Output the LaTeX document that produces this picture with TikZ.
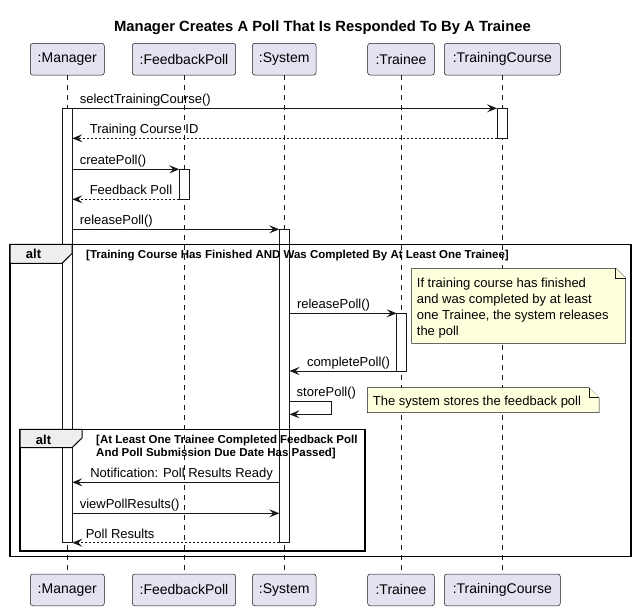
\documentclass[tikz,border=0pt]{standalone}
\usepackage{fontspec}
\setmainfont{Liberation Sans}
\usetikzlibrary{arrows.meta}

\definecolor{partfill}{HTML}{E2E2F0}
\definecolor{ink}{HTML}{181818}
\definecolor{notefill}{HTML}{FEFFDD}
\definecolor{tabfill}{HTML}{EEEEEE}

\tikzset{
  part/.style={draw=ink, fill=partfill, line width=0.5pt, rounded corners=2.5pt,
    minimum height=31.7pt, inner sep=0pt, font=\fontsize{14}{17}\selectfont},
  life/.style={draw=ink, line width=0.5pt, dash pattern=on 5pt off 5pt},
  act/.style={draw=ink, fill=white, line width=1pt},
  call/.style={draw=ink, line width=1pt, -{Stealth[length=10pt,width=8pt,inset=4pt]}},
  reply/.style={call, dash pattern=on 2pt off 2pt},
  lbl/.style={anchor=base west, inner sep=0pt, yshift=4.5pt, font=\fontsize{13}{16}\selectfont},
  frame/.style={draw=black, line width=1.5pt},
  tab/.style={draw=black, fill=tabfill, line width=1pt},
  tabtext/.style={anchor=base, inner sep=0pt, font=\fontsize{13}{16}\bfseries\selectfont},
  guard/.style={anchor=north west, inner sep=0pt, align=left, font=\fontsize{11.5}{13.3}\bfseries\selectfont},
  notebox/.style={draw=ink, fill=notefill, line width=0.5pt},
  notetext/.style={anchor=north west, inner sep=0pt, align=left, font=\fontsize{13}{16}\selectfont},
}

\begin{document}
\begin{tikzpicture}[x=1pt,y=-1pt]
  \useasboundingbox (0,0) rectangle (635,611);

  \node[anchor=base, font=\fontsize{14.8}{18}\bfseries\selectfont] (title) at (322.5,31.5)
    {Manager Creates A Poll That Is Responded To By A Trainee};

  \begin{scope}[every node/.style={part}]
    \node[minimum width=74pt]    (mgr)  at (67.3,59.2)  {:Manager};
    \node[minimum width=103.4pt] (fp)   at (184,59.2)   {:FeedbackPoll};
    \node[minimum width=63.7pt]  (sys)  at (284.2,59.2) {:System};
    \node[minimum width=66.7pt]  (tr)   at (401,59.2)   {:Trainee};
    \node[minimum width=116pt]   (tc)   at (502.3,59.2) {:TrainingCourse};
    \node[minimum width=74pt]    (mgr2) at (67.3,589.9)  {:Manager};
    \node[minimum width=103.4pt] (fp2)  at (184,589.9)   {:FeedbackPoll};
    \node[minimum width=63.7pt]  (sys2) at (284.2,589.9) {:System};
    \node[minimum width=66.7pt]  (tr2)  at (401,589.9)   {:Trainee};
    \node[minimum width=116pt]   (tc2)  at (502.3,589.9) {:TrainingCourse};
  \end{scope}

  \begin{scope}[every edge/.style={life}]
    \path (mgr) edge (mgr2);
    \path (fp)  edge (fp2);
    \path (sys) edge (sys2);
    \path (tr)  edge (tr2);
    \path (tc)  edge (tc2);
  \end{scope}

  \draw[act] (62.3,108.3) rectangle (72.3,542.7);
  \draw[act] (497,108.3) rectangle (507.7,138.3);
  \draw[act] (179.3,169.3) rectangle (189.7,199.3);
  \draw[act] (279.3,229.3) rectangle (289.5,542.7);
  \draw[act] (396.7,313.3) rectangle (406.7,371);

  \draw[frame] (10,244.3) rectangle (631,556.7);
  \draw[tab] (10,244.3) -- (72,244.3) -- (72,253.5) -- (62,263.3) -- (10,263.3) -- cycle;
  \node[tabtext] (alt1) at (33.5,258.3) {alt};
  \node[guard] (g1) at (86,249.5)
    {[Training Course Has Finished AND Was Completed By At Least One Trainee]};

  \draw[frame] (20,429.3) rectangle (365,551);
  \draw[tab] (20,429.3) -- (82,429.3) -- (82,438) -- (72,447.7) -- (20,447.7) -- cycle;
  \node[tabtext] (alt2) at (43.5,444) {alt};
  \node[guard] (g2) at (96,434.5)
    {[At Least One Trainee Completed Feedback Poll\\And Poll Submission Due Date Has Passed]};

  \coordinate (s1)  at (72.3,108.3);  \coordinate (e1)  at (497,108.3);
  \coordinate (s2)  at (497,138.3);   \coordinate (e2)  at (72.3,138.3);
  \coordinate (s3)  at (72.3,169.3);  \coordinate (e3)  at (179.3,169.3);
  \coordinate (s4)  at (179.3,199.3); \coordinate (e4)  at (72.3,199.3);
  \coordinate (s5)  at (72.3,229.3);  \coordinate (e5)  at (279.3,229.3);
  \coordinate (s6)  at (289.5,313.3); \coordinate (e6)  at (396.7,313.3);
  \coordinate (s7)  at (396.7,371);   \coordinate (e7)  at (289.5,371);
  \coordinate (s8)  at (289.5,401);   \coordinate (e8)  at (289.5,414.3);
  \coordinate (s9)  at (279.3,482.3); \coordinate (e9)  at (72.3,482.3);
  \coordinate (s10) at (72.3,513.3);  \coordinate (e10) at (279.3,513.3);
  \coordinate (s11) at (279.3,542.7); \coordinate (e11) at (72.3,542.7);

  \begin{scope}[every node/.style={lbl}]
    \path (s1)  edge[call]  node[at start, xshift=7pt] {selectTrainingCourse()} (e1);
    \path (s2)  edge[reply] node[at end, xshift=17pt]  {Training Course ID} (e2);
    \path (s3)  edge[call]  node[at start, xshift=7pt] {createPoll()} (e3);
    \path (s4)  edge[reply] node[at end, xshift=17pt]  {Feedback Poll} (e4);
    \path (s5)  edge[call]  node[at start, xshift=7pt] {releasePoll()} (e5);
    \path (s6)  edge[call]  node[at start, xshift=7pt] {releasePoll()} (e6);
    \path (s7)  edge[call]  node[at end, xshift=17pt]  {completePoll()} (e7);
    \draw[call] (s8) -- ++(42.2,0) |- (e8);
    \node[xshift=7pt] (l8) at (s8) {storePoll()};
    \path (s9)  edge[call]  node[at end, xshift=17.5pt] {Notification: Poll Results Ready} (e9);
    \path (s10) edge[call]  node[at start, xshift=7pt] {viewPollResults()} (e10);
    \path (s11) edge[reply] node[at end, xshift=13pt]  {Poll Results} (e11);
  \end{scope}

  \draw[notebox] (411.7,268.3) -- (615.7,268.3) -- (625.7,278.3) -- (625.7,343.3)
    -- (411.7,343.3) -- cycle;
  \draw[notebox] (615.7,268.3) -- (615.7,278.3) -- (625.7,278.3);
  \node[notetext] (n1) at (416.7,278.2)
    {If training course has finished\\and was completed by at least\\one Trainee, the system releases\\the poll};

  \draw[notebox] (367.3,387.7) -- (589,387.7) -- (599,397.7) -- (599,412.7)
    -- (367.3,412.7) -- cycle;
  \draw[notebox] (589,387.7) -- (589,397.7) -- (599,397.7);
  \node[notetext, anchor=base west] (n2) at (372.7,405.7) {The system stores the feedback poll};

\end{tikzpicture}
\end{document}
